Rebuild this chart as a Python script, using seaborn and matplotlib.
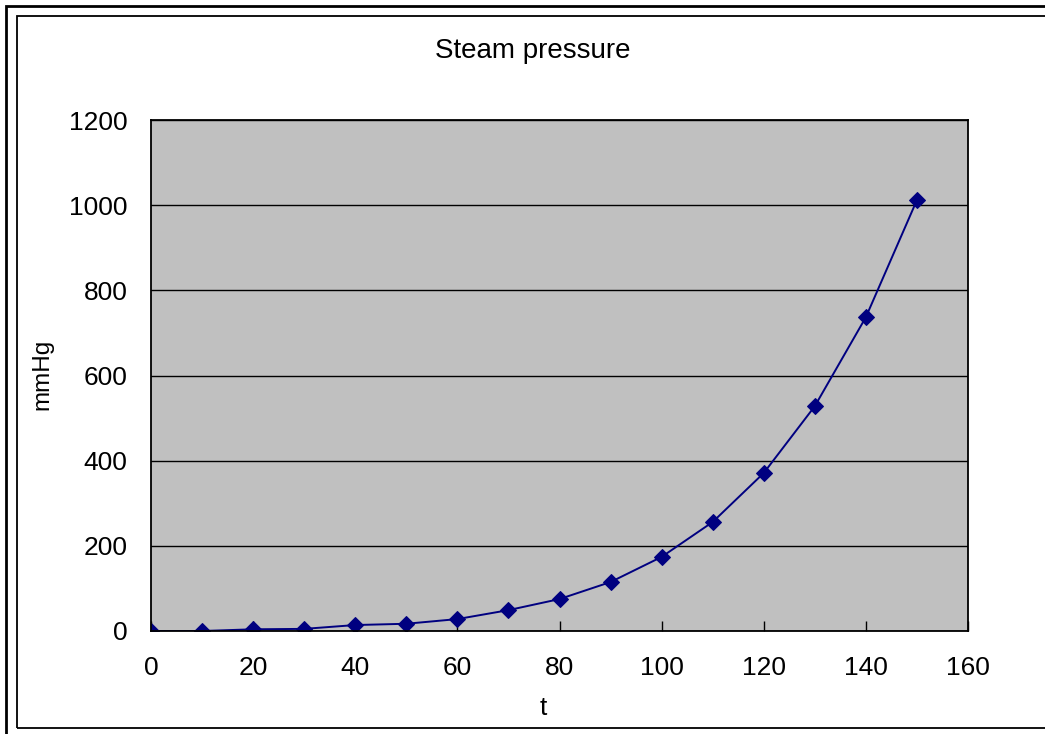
import matplotlib
matplotlib.use("Agg")
import matplotlib.pyplot as plt
import matplotlib.patches as mpatches
import seaborn as sns
import pandas as pd

# Steam pressure readings
temperature = [0, 10, 20, 30, 40, 50, 60, 70, 80, 90, 100, 110, 120, 130, 140, 150]
pressure_mmhg = [0, 0, 4, 5, 14, 17, 28, 49, 75, 115, 174, 256, 371, 528, 737, 1012]

x_ticks = [0, 20, 40, 60, 80, 100, 120, 140, 160]
y_ticks = [0, 200, 400, 600, 800, 1000, 1200]

df = pd.DataFrame({"t": temperature, "mmHg": pressure_mmhg})

sns.set_theme(style="white")
plt.rcParams["font.family"] = ["Liberation Sans", "DejaVu Sans"]
plt.rcParams["text.color"] = "black"
plt.rcParams["axes.labelcolor"] = "black"

W, H = 1045, 734
fig = plt.figure(figsize=(W / 100, H / 100), dpi=100)
fig.patch.set_facecolor("white")

left, right, top, bottom = 151, 968, 120, 631
ax = fig.add_axes([left / W, 1 - bottom / H, (right - left) / W, (bottom - top) / H])
ax.set_facecolor("#C0C0C0")

sns.lineplot(data=df, x="t", y="mmHg", ax=ax, color="#000080", linewidth=1.4,
             marker="D", markersize=8, markeredgecolor="#000080",
             markerfacecolor="#000080", zorder=3)

ax.set_xlim(0, 160)
ax.set_ylim(0, 1200)
ax.set_xticks(x_ticks, labels=[str(v) for v in x_ticks])
ax.set_yticks(y_ticks, labels=[str(v) for v in y_ticks])

ax.yaxis.grid(True, color="black", linewidth=1.0, zorder=1)
ax.xaxis.grid(False)

for s in ax.spines.values():
    s.set_color("black")
    s.set_linewidth(1.3)
    s.set_zorder(4)

ax.xaxis.set_tick_params(which="major", direction="in", length=7, width=1,
                         color="black", labelcolor="black", labelsize=19, pad=18,
                         bottom=True, top=False)
ax.yaxis.set_tick_params(which="major", direction="in", length=0,
                         color="black", labelcolor="black", labelsize=19, pad=17,
                         left=True, right=False)

ax.set_xlabel("t", fontsize=19, color="black")
ax.xaxis.set_label_coords(0.48, -0.128)
ax.xaxis.label.set_va("top")
ax.set_ylabel("mmHg", fontsize=17.5, color="black")
ax.yaxis.set_label_coords(-0.12, 0.503)

fig.text(533 / W, 1 - 51 / H, "Steam pressure", fontsize=20, ha="center", va="center",
         color="black")

# Outer and inner frames around the chart
outer = mpatches.Rectangle((6 / W, -0.05), 1.1, 1 - 6 / H + 0.05, transform=fig.transFigure,
                           fill=False, edgecolor="black", linewidth=2.0)
inner = mpatches.Rectangle((17 / W, 1 - 728 / H), 1.1, (728 - 16) / H, transform=fig.transFigure,
                           fill=False, edgecolor="black", linewidth=1.3)
fig.add_artist(outer)
fig.add_artist(inner)

fig.savefig("out.png", dpi=100, facecolor="white")
